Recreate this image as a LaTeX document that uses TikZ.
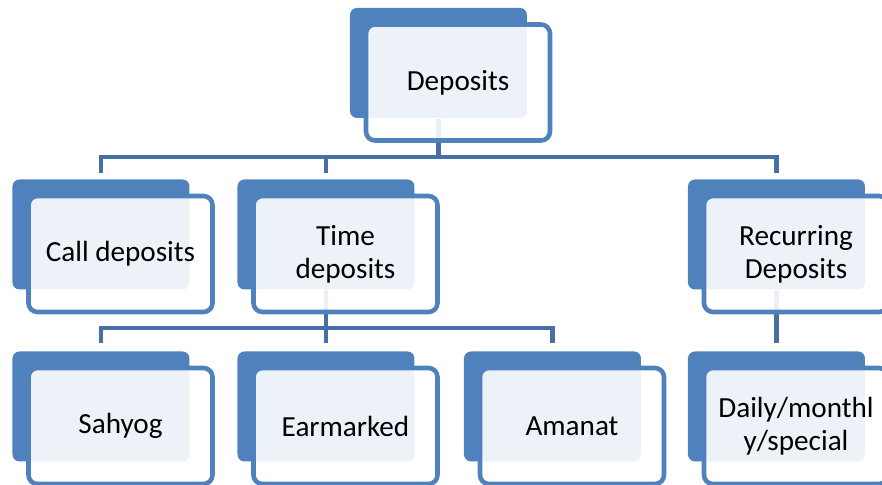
\documentclass[tikz,border=0pt]{standalone}
\usepackage{fontspec}
\setmainfont{Carlito}
\usetikzlibrary{positioning, backgrounds, calc}
\definecolor{BoxColor}{RGB}{79,129,189}
\definecolor{LinkColor}{RGB}{68,112,165}

\tikzset{
  backbox/.style={fill=BoxColor, rounded corners=0.07cm, minimum width=1.77cm, minimum height=1.10cm, inner sep=0pt},
  frontbox/.style={draw=BoxColor, line width=1.3pt, fill=white, fill opacity=0.9, text opacity=1,
    rounded corners=0.09cm, minimum width=1.84cm, minimum height=1.16cm, inner sep=0pt,
    align=center, font=\fontsize{8.3}{9.4}\selectfont},
  link/.style={draw=LinkColor, line width=1.2pt}
}

\begin{document}
\begin{tikzpicture}
  \useasboundingbox (0,0) rectangle (8.82,4.85);
  % top level
  \node[backbox] (dep) at (4.385,4.22) {};
  \node[frontbox] (dep-f) at ([shift={(0.195,-0.195)}]dep) {Deposits};
  % second level
  \node[backbox] (call) at (1.01,2.505) {};
  \node[frontbox] (call-f) at ([shift={(0.195,-0.195)}]call) {Call deposits};
  \node[backbox] (time) at (3.26,2.505) {};
  \node[frontbox] (time-f) at ([shift={(0.195,-0.195)}]time) {Time\\deposits};
  \node[backbox] (rec) at (7.765,2.505) {};
  \node[frontbox] (rec-f) at ([shift={(0.195,-0.195)}]rec) {Recurring\\Deposits};
  % third level
  \node[backbox] (sah) at (1.01,0.785) {};
  \node[frontbox] (sah-f) at ([shift={(0.195,-0.195)}]sah) {Sahyog};
  \node[backbox] (ear) at (3.26,0.785) {};
  \node[frontbox] (ear-f) at ([shift={(0.195,-0.195)}]ear) {Earmarked};
  \node[backbox] (ama) at (5.525,0.785) {};
  \node[frontbox] (ama-f) at ([shift={(0.195,-0.195)}]ama) {Amanat};
  \node[backbox] (daily) at (7.765,0.785) {};
  \node[frontbox] (daily-f) at ([shift={(0.195,-0.195)}]daily) {Daily/monthl\\y/special};
  % connectors
  \begin{scope}[on background layer]
    \draw[link] (dep) |- ([yshift=2.2mm]call.north) -- ([yshift=0.6mm]call.north);
    \draw[link] (dep) |- ([yshift=2.2mm]time.north) -- ([yshift=0.6mm]time.north);
    \draw[link] (dep) |- ([yshift=2.2mm]rec.north) -- ([yshift=0.6mm]rec.north);
    \draw[link] (time) |- ([yshift=2.3mm]sah.north) -- ([yshift=0.8mm]sah.north);
    \draw[link] (time) -- ([yshift=0.8mm]ear.north);
    \draw[link] (time) |- ([yshift=2.3mm]ama.north) -- ([yshift=0.8mm]ama.north);
    \draw[link] (rec) -- ([yshift=0.8mm]daily.north);
  \end{scope}
\end{tikzpicture}
\end{document}
